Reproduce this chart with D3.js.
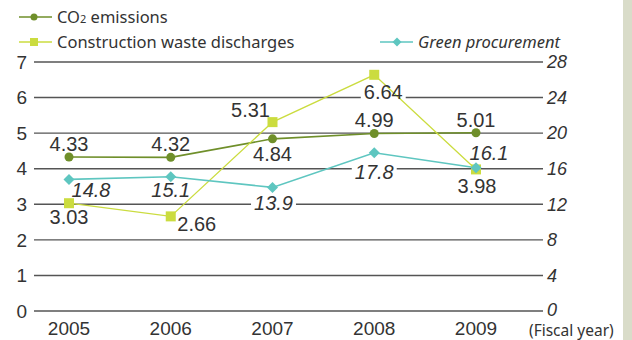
<!DOCTYPE html>
<html>
<head>
<meta charset="utf-8">
<script src="https://cdn.jsdelivr.net/npm/d3@7"></script>
<style>
  body { margin: 0; background: #fff; }
  svg { display: block; }
</style>
</head>
<body>
<svg id="chart" width="632" height="340"></svg>
<script>
// data
const years = ['2005', '2006', '2007', '2008', '2009']
const co2 = [4.33, 4.32, 4.84, 4.99, 5.01]
const waste = [3.03, 2.66, 5.31, 6.64, 3.98]
const green = [14.8, 15.1, 13.9, 17.8, 16.1]
const leftTicks = [0, 1, 2, 3, 4, 5, 6, 7]
const rightTicks = [0, 4, 8, 12, 16, 20, 24, 28]

// label placement relative to each point: [dx, dy of baseline]
const co2Pos = [[0, -6], [0, -6], [0, 22], [0, -6], [0, -6]]
const wastePos = [[0, 21], [26, 15], [-22, -5], [9, 24], [1, 24]]
const greenPos = [[22, 18], [0, 20], [1, 23], [0, 26], [13, -8]]

const C_CO2 = '#6f8f2a'
const C_WASTE = '#cbdc3f'
const C_GREEN = '#5ec6c0'
const TXT = '#333'
const NUMFONT = '"Liberation Sans", Arial, sans-serif'
const LEGFONT = '"Noto Sans", sans-serif'

const svg = d3.select('#chart')

// side strip
svg.append('rect').attr('x', 623).attr('y', 0).attr('width', 9).attr('height', 340)
  .attr('fill', '#d9dcc9')

const x = d3.scalePoint().domain(years).range([69, 476])
const yL = d3.scaleLinear().domain([0, 7]).range([311, 62])
const yR = d3.scaleLinear().domain([0, 28]).range([311, 62])
const X0 = 34, X1 = 543

// gridlines
svg.append('g').selectAll('line').data(leftTicks).join('line')
  .attr('x1', X0).attr('x2', X1)
  .attr('y1', d => yL(d)).attr('y2', d => yL(d))
  .attr('stroke', '#555').attr('stroke-width', 1.4)

// left ticks
svg.append('g').selectAll('text').data(leftTicks).join('text')
  .attr('x', 27).attr('y', d => yL(d)).attr('dy', '0.35em')
  .attr('text-anchor', 'end')
  .attr('font-family', NUMFONT).attr('font-size', 19).attr('fill', TXT)
  .text(d => d)

// right ticks
svg.append('g').selectAll('text').data(rightTicks).join('text')
  .attr('x', 547).attr('y', d => yR(d)).attr('dy', d => d === 0 ? '0.25em' : '0.35em')
  .attr('font-family', NUMFONT).attr('font-size', 18).attr('font-style', 'italic')
  .attr('fill', TXT)
  .text(d => d)

// x labels
svg.append('g').selectAll('text').data(years).join('text')
  .attr('x', d => x(d)).attr('y', 335)
  .attr('text-anchor', 'middle')
  .attr('font-family', NUMFONT).attr('font-size', 19).attr('fill', TXT)
  .text(d => d)
svg.append('text').attr('x', 529).attr('y', 335.5)
  .attr('font-family', LEGFONT).attr('font-size', 15.5).attr('fill', TXT)
  .text('(Fiscal year)')

const series = [
  { vals: co2, y: yL, color: C_CO2, pos: co2Pos, italic: false, fmt: d3.format('.2f'), marker: 'circle', w: 1.6 },
  { vals: waste, y: yL, color: C_WASTE, pos: wastePos, italic: false, fmt: d3.format('.2f'), marker: 'square', w: 1.3 },
  { vals: green, y: yR, color: C_GREEN, pos: greenPos, italic: true, fmt: d3.format('.1f'), marker: 'diamond', w: 1.6 }
]

// label backgrounds (cut the gridlines, drawn under the data lines)
const bgLayer = svg.append('g')
const lineLayer = svg.append('g')
const labelLayer = svg.append('g')

series.forEach(s => {
  const line = d3.line().x((d, i) => x(years[i])).y(d => s.y(d))
  lineLayer.append('path').datum(s.vals)
    .attr('d', line).attr('fill', 'none')
    .attr('stroke', s.color).attr('stroke-width', s.w)
})

function marker(g, type, color, cx, cy) {
  if (type === 'circle') {
    g.append('circle').attr('cx', cx).attr('cy', cy).attr('r', 4.5).attr('fill', color)
  } else if (type === 'square') {
    g.append('rect').attr('x', cx - 5).attr('y', cy - 5).attr('width', 10).attr('height', 10).attr('fill', color)
  } else {
    g.append('path').attr('d', `M${cx},${cy - 5.5}L${cx + 5.5},${cy}L${cx},${cy + 5.5}L${cx - 5.5},${cy}Z`)
      .attr('fill', color)
  }
}

series.forEach(s => {
  s.vals.forEach((v, i) => {
    marker(lineLayer, s.marker, s.color, x(years[i]), s.y(v))
  })
})

series.forEach(s => {
  s.vals.forEach((v, i) => {
    const t = labelLayer.append('text')
      .attr('x', x(years[i]) + s.pos[i][0])
      .attr('y', s.y(v) + s.pos[i][1])
      .attr('text-anchor', 'middle')
      .attr('font-family', NUMFONT).attr('font-size', 20)
      .attr('font-style', s.italic ? 'italic' : 'normal')
      .attr('fill', TXT)
      .text(s.fmt(v))
    const b = t.node().getBBox()
    bgLayer.append('rect')
      .attr('x', b.x - 3).attr('y', b.y + 2).attr('width', b.width + 6).attr('height', b.height - 3)
      .attr('fill', '#fff')
  })
})

// legend
const legend = [
  { label: 'CO', sub: '2', rest: ' emissions', color: C_CO2, marker: 'circle', lx: 19, ly: 17, italic: false },
  { label: 'Construction waste discharges', color: C_WASTE, marker: 'square', lx: 19, ly: 42, italic: false },
  { label: 'Green procurement', color: C_GREEN, marker: 'diamond', lx: 380, ly: 42, italic: true }
]
const lg = svg.append('g')
legend.forEach(d => {
  lg.append('line').attr('x1', d.lx).attr('x2', d.lx + 33).attr('y1', d.ly).attr('y2', d.ly)
    .attr('stroke', d.color).attr('stroke-width', 1.6)
  if (d.marker === 'circle') {
    lg.append('circle').attr('cx', d.lx + 15).attr('cy', d.ly).attr('r', 3.5).attr('fill', d.color)
  } else if (d.marker === 'square') {
    lg.append('rect').attr('x', d.lx + 11).attr('y', d.ly - 4).attr('width', 8).attr('height', 8).attr('fill', d.color)
  } else {
    const cx = d.lx + 17, cy = d.ly
    lg.append('path').attr('d', `M${cx},${cy - 4.5}L${cx + 4.5},${cy}L${cx},${cy + 4.5}L${cx - 4.5},${cy}Z`).attr('fill', d.color)
  }
  const t = lg.append('text').attr('x', d.lx + 38).attr('y', d.ly + 6)
    .attr('font-family', LEGFONT).attr('font-size', 16.5).attr('fill', TXT)
    .attr('font-style', d.italic ? 'italic' : 'normal')
  t.append('tspan').text(d.label)
  if (d.sub) {
    t.append('tspan').attr('font-size', 11).text(d.sub)
    t.append('tspan').text(d.rest)
  }
})
</script>
</body>
</html>
